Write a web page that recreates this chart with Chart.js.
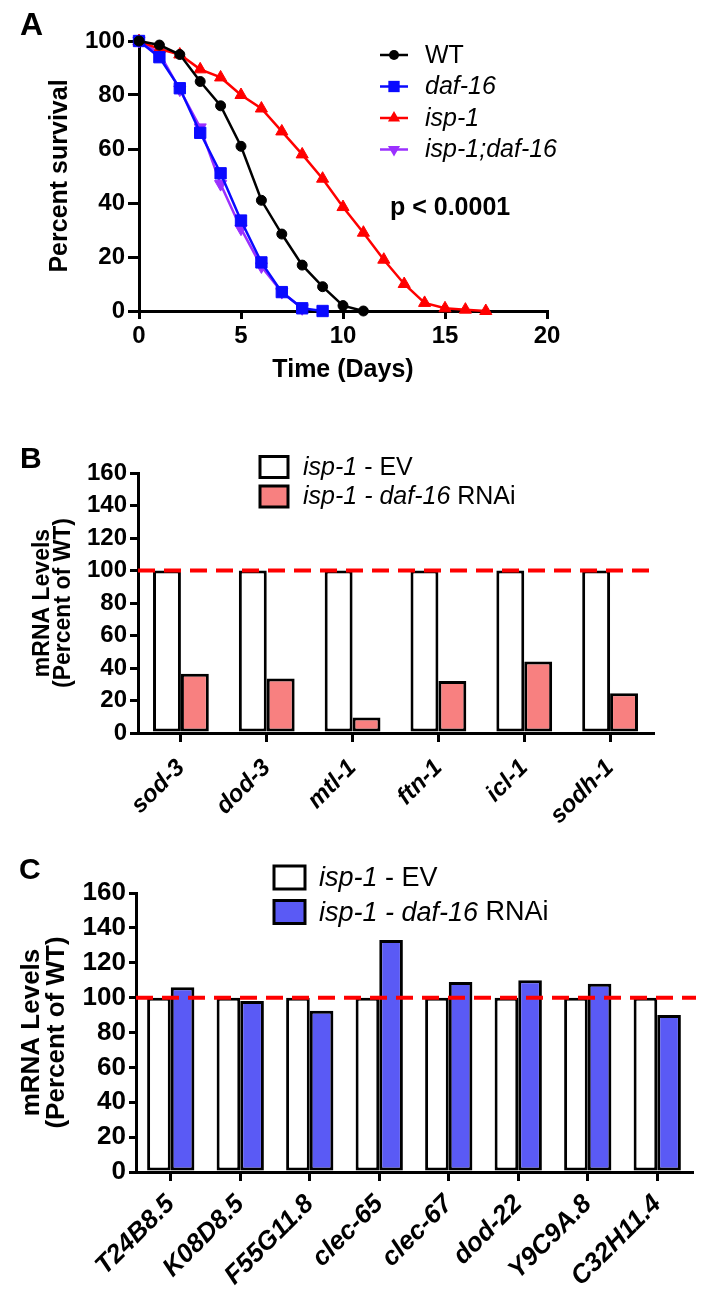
<!DOCTYPE html>
<html>
<head>
<meta charset="utf-8">
<script src="https://cdn.jsdelivr.net/npm/chart.js@4.4.1/dist/chart.umd.min.js"></script>
<style>
  body { margin: 0; background: #fff; width: 709px; height: 1296px; position: relative; overflow: hidden;
         font-family: "Liberation Sans", Arial, Helvetica, sans-serif; color: #000; }
  .panel { position: absolute; left: 0; }
  .tag { position: absolute; font-weight: bold; line-height: 1; white-space: nowrap; }
</style>
</head>
<body>
<div class="panel" style="top:0"><canvas id="chartA" width="709" height="400"></canvas></div>
<div class="panel" style="top:400px"><canvas id="chartB" width="709" height="430"></canvas></div>
<div class="panel" style="top:830px"><canvas id="chartC" width="709" height="466"></canvas></div>

<div class="tag" style="left:20px;top:8px;font-size:32px">A</div>
<div class="tag" style="left:390px;top:194px;font-size:25px">p &lt; 0.0001</div>
<div class="tag" style="left:20px;top:443px;font-size:30px">B</div>
<div class="tag" style="left:19px;top:854px;font-size:30px">C</div>

<script>
// ── Fonts / defaults ──────────────────────────────────────────────────────────
const FONT = '"Liberation Sans", Arial, Helvetica, sans-serif';
Chart.defaults.font.family = FONT;
Chart.defaults.color = "#000";

// ── Panel A: survival curves ──────────────────────────────────────────────────
const days              = [0, 1, 2, 3, 4, 5, 6, 7, 8, 9, 10, 11, 12, 13, 14, 15, 16, 17];
const wtSurvival        = [100, 98.5, 95, 85, 76, 61, 41, 28.5, 17, 9, 2, 0];
const daf16Survival     = [100, 94, 82.5, 66, 51, 33.5, 18, 7, 1, 0];
const isp1Survival      = [100, 97, 95, 89.5, 86.5, 80, 75, 66.5, 58, 49, 38.5, 29, 19, 10, 3, 1, 0.5, 0];
const isp1Daf16Survival = [100, 95.5, 82, 68, 47, 30.5, 16.5, 7, 1];
const survivalTicksX    = [0, 5, 10, 15, 20];

// ── Panel B: DAF-16 targets ───────────────────────────────────────────────────
const genesB = ["sod-3", "dod-3", "mtl-1", "ftn-1", "icl-1", "sodh-1"];
const evB    = [100, 100, 100, 100, 100, 100];
const rnaiB  = [36.5, 33.5, 9.5, 32, 44, 24.5];

// ── Panel C: other genes ──────────────────────────────────────────────────────
const genesC = ["T24B8.5", "K08D8.5", "F55G11.8", "clec-65", "clec-67", "dod-22", "Y9C9A.8", "C32H11.4"];
const evC    = [100, 100, 100, 100, 100, 100, 100, 100];
const rnaiC  = [106, 98, 92.5, 133, 109, 110, 108, 90];

const REF_LEVEL = 100;

// ── Helpers ───────────────────────────────────────────────────────────────────
function fixedAxis(size) {
  return scale => {
    if (scale.isHorizontal()) scale.height = size; else scale.width = size;
    scale.paddingLeft = scale.paddingRight = scale.paddingTop = scale.paddingBottom = 0;
  };
}
function xy(values) {
  return values.map((v, i) => ({ x: days[i], y: v }));
}
function drawMarker(ctx, style, r, rot, x, y) {
  ctx.beginPath();
  if (style === "circle") {
    ctx.arc(x, y, r, 0, Math.PI * 2);
  } else if (style === "rect") {
    const s = r * Math.SQRT1_2;
    ctx.rect(x - s, y - s, 2 * s, 2 * s);
  } else {
    let a = (rot || 0) * Math.PI / 180;
    for (let k = 0; k < 3; k++) {
      const px = x + Math.sin(a) * r, py = y - Math.cos(a) * r;
      k ? ctx.lineTo(px, py) : ctx.moveTo(px, py);
      a += Math.PI * 2 / 3;
    }
    ctx.closePath();
  }
  ctx.fill();
}

// custom key drawn at fixed spot (line+marker or boxes), text with italic parts
const keyPlugin = {
  id: "key",
  afterDraw(chart, args, o) {
    const ctx = chart.ctx;
    ctx.save();
    o.items.forEach((parts, i) => {
      const ds = chart.data.datasets[i];
      const cy = o.y + i * o.gap;
      if (o.kind === "line") {
        ctx.strokeStyle = ds.borderColor;
        ctx.fillStyle = ds.borderColor;
        ctx.lineWidth = 2.5;
        ctx.beginPath(); ctx.moveTo(o.x, cy); ctx.lineTo(o.x + o.w, cy); ctx.stroke();
        drawMarker(ctx, ds.pointStyle, ds.pointRadius, ds.pointRotation, o.x + o.w / 2, cy);
      } else {
        ctx.fillStyle = ds.backgroundColor;
        ctx.fillRect(o.x, cy - o.h / 2, o.w, o.h);
        ctx.strokeStyle = "#000"; ctx.lineWidth = 3;
        ctx.strokeRect(o.x, cy - o.h / 2, o.w, o.h);
      }
      ctx.fillStyle = "#000";
      ctx.textBaseline = "middle";
      let tx = o.textX;
      parts.forEach(([txt, it]) => {
        ctx.font = `${it ? "italic " : ""}${o.size}px ${FONT}`;
        ctx.fillText(txt, tx, cy + 1);
        tx += ctx.measureText(txt).width;
      });
    });
    ctx.restore();
  }
};

const refLinePlugin = {
  id: "refLine",
  afterDatasetsDraw(chart, args, o) {
    const { ctx, chartArea, scales } = chart;
    const py = scales.y.getPixelForValue(o.value);
    ctx.save();
    ctx.strokeStyle = "#ff0000";
    ctx.lineWidth = 4;
    ctx.setLineDash([17, 9]);
    ctx.beginPath();
    ctx.moveTo(chartArea.left, py);
    ctx.lineTo(chartArea.right + (o.extend || 0), py);
    ctx.stroke();
    ctx.restore();
  }
};

function axisLines(tickLen) {
  return {
    grid:   { display: true, drawOnChartArea: false, drawTicks: true, tickLength: tickLen, lineWidth: 3, color: "#000", offset: false },
    border: { display: true, color: "#000", width: 3 },
  };
}

// ── Chart A ───────────────────────────────────────────────────────────────────
const lineDs = (label, values, color, style, r, rot) => ({
  label, data: xy(values),
  borderColor: color, backgroundColor: color,
  borderWidth: 2.5, tension: 0,
  pointStyle: style, pointRadius: r, pointRotation: rot || 0,
  pointBackgroundColor: color, pointBorderColor: color, pointBorderWidth: 1,
  clip: false,
});

new Chart(document.getElementById("chartA"), {
  type: "line",
  data: {
    datasets: [
      lineDs("WT", wtSurvival, "#000000", "circle", 5),
      lineDs("daf-16", daf16Survival, "#0a0aff", "rect", 8),
      lineDs("isp-1", isp1Survival, "#ff0000", "triangle", 7),
      lineDs("isp-1;daf-16", isp1Daf16Survival, "#9b30ff", "triangle", 7, 180),
    ]
  },
  options: {
    responsive: false, animation: false,
    layout: { padding: { top: 41, right: 162, left: 0, bottom: 0 } },
    plugins: {
      legend: { display: false }, tooltip: { enabled: false },
      key: {
        kind: "line", x: 380, w: 28, y: 55, gap: 31.5, textX: 425, size: 25,
        items: [[["WT", false]], [["daf-16", true]], [["isp-1", true]], [["isp-1;daf-16", true]]]
      }
    },
    scales: {
      x: {
        type: "linear", min: 0, max: 20,
        afterBuildTicks: s => { s.ticks = survivalTicksX.map(v => ({ value: v })); },
        ticks: { font: { size: 24, weight: "bold" }, padding: 3, color: "#000" },
        ...axisLines(8),
        title: { display: true, text: "Time (Days)", font: { size: 25, weight: "bold" }, padding: { top: 0, bottom: 15 } },
        afterFit: fixedAxis(89),
      },
      y: {
        min: 0, max: 100,
        ticks: { stepSize: 20, font: { size: 24, weight: "bold" }, padding: 3, color: "#000" },
        ...axisLines(11),
        title: { display: true, text: "Percent survival", font: { size: 25, weight: "bold" }, padding: { top: 45, bottom: 0 } },
        afterFit: fixedAxis(139),
      }
    }
  },
  plugins: [keyPlugin]
});

// ── Bar panels ────────────────────────────────────────────────────────────────
function barChart(id, genes, ev, rnai, fill, cfg) {
  return new Chart(document.getElementById(id), {
    type: "bar",
    data: {
      labels: genes,
      datasets: [
        { label: "isp-1 - EV", data: ev, backgroundColor: "#ffffff", borderColor: "#000", borderWidth: 3, borderSkipped: false },
        { label: "isp-1 - daf-16 RNAi", data: rnai, backgroundColor: fill, borderColor: "#000", borderWidth: 3, borderSkipped: false },
      ]
    },
    options: {
      responsive: false, animation: false,
      categoryPercentage: cfg.catPct, barPercentage: 1,
      layout: { padding: { top: cfg.top, right: cfg.right, left: 0, bottom: 0 } },
      plugins: {
        legend: { display: false }, tooltip: { enabled: false },
        refLine: { value: REF_LEVEL, extend: cfg.extend },
        key: {
          kind: "box", x: cfg.keyX, w: cfg.keyW, h: cfg.keyH, y: cfg.keyY, gap: cfg.keyGap, textX: cfg.keyTextX, size: cfg.keySize,
          items: [[["isp-1", true], [" - EV", false]], [["isp-1 - daf-16", true], [" RNAi", false]]]
        }
      },
      scales: {
        x: {
          ticks: { font: { size: cfg.xFont, weight: "bold", style: "italic" }, minRotation: 45, maxRotation: 45, autoSkip: false, padding: cfg.xPad, color: "#000" },
          ...axisLines(9),
          afterFit: fixedAxis(cfg.xH),
        },
        y: {
          min: 0, max: 160,
          ticks: { stepSize: 20, font: { size: cfg.yFont, weight: "bold" }, padding: 3, color: "#000" },
          ...axisLines(cfg.yTick),
          title: {
            display: true, text: ["mRNA Levels", "(Percent of WT)"],
            font: { size: cfg.titleSize, weight: "bold", lineHeight: cfg.titleLH }, padding: { top: cfg.titlePad, bottom: 0 }
          },
          afterFit: fixedAxis(cfg.yW),
        }
      }
    },
    plugins: [refLinePlugin, keyPlugin]
  });
}

barChart("chartB", genesB, evB, rnaiB, "#f88080", {
  catPct: 0.65, top: 73, right: 56, extend: 2, xH: 97, yW: 138, xPad: 12,
  xFont: 24, yFont: 24, yTick: 8, titleSize: 23, titleLH: 0.91, titlePad: 32,
  keyX: 260, keyW: 28, keyH: 21, keyY: 67, keyGap: 29.5, keyTextX: 303, keySize: 25,
});

barChart("chartC", genesC, evC, rnaiC, "#5a5af5", {
  catPct: 0.68, top: 63, right: 17, extend: 4, xH: 124, yW: 136, xPad: 8,
  xFont: 26, yFont: 26, yTick: 7, titleSize: 26, titleLH: 0.96, titlePad: 19,
  keyX: 274, keyW: 31, keyH: 23, keyY: 47.5, keyGap: 34.5, keyTextX: 319, keySize: 27,
});
</script>
</body>
</html>
